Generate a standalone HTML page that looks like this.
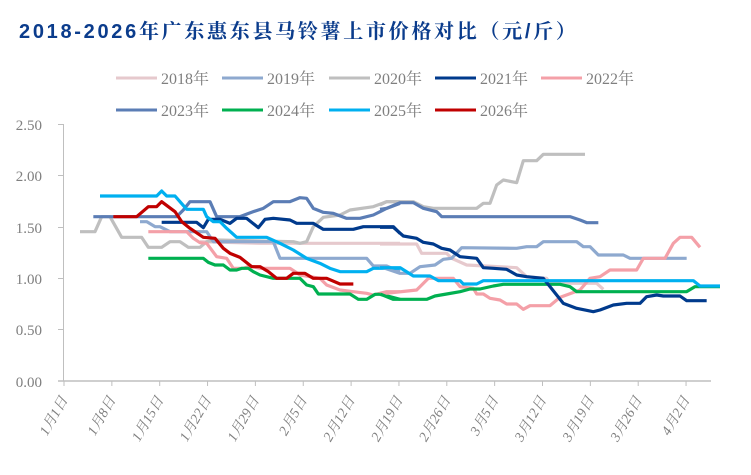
<!DOCTYPE html>
<html><head><meta charset="utf-8"><style>
body{margin:0;background:#fff;width:751px;height:475px;overflow:hidden}
svg{display:block}
.s polyline{fill:none;stroke-width:3.2;vector-effect:non-scaling-stroke;stroke-linejoin:round}
text{font-family:"Liberation Serif","Noto Serif CJK SC",serif}
</style></head><body>
<svg width="751" height="475" viewBox="0 0 751 475">
<text x="19" y="38" font-weight="bold" font-size="20" fill="#0B3C8C" letter-spacing="2.7" style="font-family:'Liberation Sans','Noto Serif CJK SC',sans-serif">2018-2026年广东惠东县马铃薯上市价格对比（元/斤）</text>
<g font-size="16" fill="#7f7f7f" stroke-width="3">
<line x1="116" y1="78" x2="157" y2="78" stroke="#E6C9CD"/><text x="161" y="84">2018年</text>
<line x1="222" y1="78" x2="263" y2="78" stroke="#8EA9CF"/><text x="267" y="84">2019年</text>
<line x1="329" y1="78" x2="370" y2="78" stroke="#BFBFBF"/><text x="374" y="84">2020年</text>
<line x1="435" y1="78" x2="476" y2="78" stroke="#003A8C"/><text x="480" y="84">2021年</text>
<line x1="541" y1="78" x2="582" y2="78" stroke="#F4A0A8"/><text x="586" y="84">2022年</text>
<line x1="116" y1="110" x2="157" y2="110" stroke="#5B7DB5"/><text x="161" y="116">2023年</text>
<line x1="222" y1="110" x2="263" y2="110" stroke="#00B050"/><text x="267" y="116">2024年</text>
<line x1="329" y1="110" x2="370" y2="110" stroke="#00B0F0"/><text x="374" y="116">2025年</text>
<line x1="435" y1="110" x2="476" y2="110" stroke="#C00000"/><text x="480" y="116">2026年</text>
</g>
<g font-size="15" fill="#7f7f7f" text-anchor="end">
<text x="42" y="130">2.50</text><text x="42" y="181">2.00</text><text x="42" y="233">1.50</text><text x="42" y="284">1.00</text><text x="42" y="335">0.50</text><text x="42" y="387">0.00</text>
</g>
<g stroke="#bfbfbf" stroke-width="1">
<line x1="63.5" y1="124" x2="63.5" y2="381"/>
<line x1="58" y1="124.5" x2="63" y2="124.5"/><line x1="58" y1="175.5" x2="63" y2="175.5"/><line x1="58" y1="227.5" x2="63" y2="227.5"/><line x1="58" y1="278.5" x2="63" y2="278.5"/><line x1="58" y1="329.5" x2="63" y2="329.5"/>
<line x1="58" y1="381" x2="711" y2="381" stroke-width="1.5"/>
</g>
<g id="ticks" stroke="#bfbfbf"></g>
<g id="xl" font-size="14" fill="#7f7f7f" font-style="italic"></g>
<g class="s" transform="translate(60,160) scale(0.33333)">
<polyline stroke="#E6C9CD" points="420,245 600,250 1020,250"/>
<polyline stroke="#BFBFBF" points="60,215 105,215 125,170 150,170 185,232 245,232 265,262 305,262 330,245 360,245 385,262 420,262 440,245 470,240 700,245 720,250 740,245 760,200 790,172 840,165 870,150 940,140 980,125 1020,125"/>
<polyline stroke="#8EA9CF" points="240,185 260,185 285,200 300,200 330,215 440,215 460,245 640,245 660,295 920,295 940,318 980,318 1020,335"/>
<polyline stroke="#F4A0A8" points="265,215 380,215 400,235 420,248 440,250 470,290 500,295 520,325 550,325 570,318 600,325 690,325 720,345 780,355 800,375 840,390 880,395 920,400 940,405 980,395 1020,395"/>
<polyline stroke="#5B7DB5" points="100,170 350,170 370,150 390,125 450,125 470,170 540,170 580,155 610,145 640,125 690,125 720,113 740,115 760,145 790,157 820,160 860,175 900,175 940,165 980,145 1020,130"/>
<polyline stroke="#00B050" points="265,295 430,295 445,307 465,315 490,315 510,330 530,330 545,325 565,325 580,335 600,345 640,355 720,355 740,375 760,380 775,402 870,402 895,418 920,418 945,403 960,403 990,410 1020,418"/>
<polyline stroke="#003A8C" points="305,187 410,187 430,203 445,178 480,178 510,190 530,175 560,175 595,203 615,178 640,175 690,180 710,190 760,190 790,208 880,208 910,200 1000,200 1020,220"/>
<polyline stroke="#00B0F0" points="120,108 290,108 305,93 320,108 345,108 360,125 380,148 430,148 440,170 460,185 480,185 500,205 530,232 620,232 660,250 700,270 740,295 780,310 810,325 840,335 920,335 940,325 1020,325"/>
<polyline stroke="#C00000" points="160,170 230,170 265,140 290,140 305,125 325,140 345,155 365,185 390,205 430,232 465,235 490,265 510,280 540,292 575,320 600,320 625,335 650,355 680,355 700,340 735,340 760,355 800,355 840,372 880,372"/>
</g>
<g class="s" transform="translate(380,140) scale(0.33333)">
<polyline stroke="#E6C9CD" points="0,312 110,312 125,340 200,340 215,355 260,375 410,383 440,410 500,415 510,430 650,430 670,448"/>
<polyline stroke="#BFBFBF" points="0,195 20,185 100,185 130,200 160,205 290,205 310,190 330,190 350,135 370,120 410,128 430,62 470,62 490,43 615,43"/>
<polyline stroke="#8EA9CF" points="0,380 30,390 60,400 90,400 120,380 165,375 190,358 215,355 245,323 410,325 440,320 470,320 490,305 590,305 610,320 630,320 655,345 730,345 750,355 920,355"/>
<polyline stroke="#F4A0A8" points="0,462 110,450 130,430 145,415 220,415 240,440 280,445 290,462 310,462 330,475 360,480 380,492 410,492 430,508 450,497 510,497 540,472 600,450 630,415 660,410 690,390 770,390 790,355 855,355 880,310 900,292 935,292 960,322"/>
<polyline stroke="#5B7DB5" points="0,208 20,205 60,188 100,188 130,205 170,215 185,230 570,230 600,240 620,248 655,248"/>
<polyline stroke="#00B050" points="0,462 40,478 140,478 165,468 200,462 240,455 270,447 300,447 340,438 370,433 540,433 570,440 590,455 920,455 945,440 1020,440"/>
<polyline stroke="#003A8C" points="0,262 40,262 70,288 110,295 130,307 160,312 185,325 210,330 240,350 290,355 310,383 340,385 380,388 410,405 440,410 490,415 510,440 550,490 590,505 640,515 660,510 700,495 740,490 780,490 800,470 830,465 850,468 900,468 920,482 980,482"/>
<polyline stroke="#00B0F0" points="0,383 60,383 100,408 150,408 175,422 240,422 250,432 290,432 310,422 940,422 960,438 1020,438"/>
</g>
</svg>
<script>
var labs=["1月1日","1月8日","1月15日","1月22日","1月29日","2月5日","2月12日","2月19日","2月26日","3月5日","3月12日","3月19日","3月26日","4月2日"];
var t=document.getElementById("ticks"),xl=document.getElementById("xl"),ns="http://www.w3.org/2000/svg";
labs.forEach(function(l,i){var x=64+47.85*i;
var ln=document.createElementNS(ns,"line");ln.setAttribute("x1",x);ln.setAttribute("x2",x);ln.setAttribute("y1",381);ln.setAttribute("y2",386);t.appendChild(ln);
var tx=document.createElementNS(ns,"text");tx.setAttribute("text-anchor","end");tx.setAttribute("transform","translate("+(x+4)+",400) rotate(-60)");tx.textContent=l;xl.appendChild(tx);});
</script>
</body></html>
